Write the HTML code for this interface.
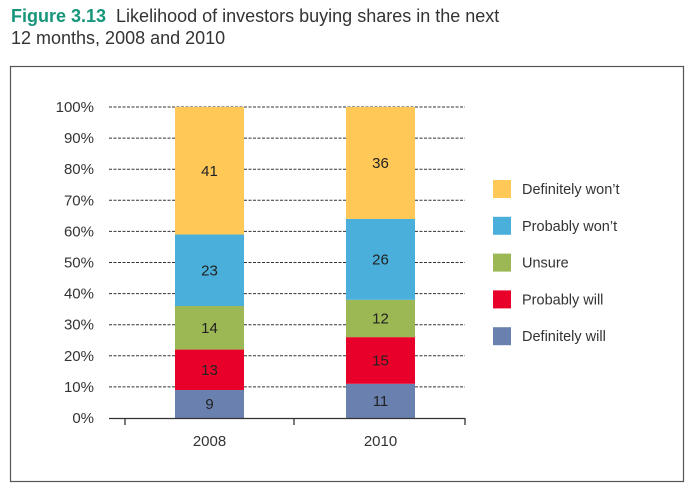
<!DOCTYPE html>
<html><head><meta charset="utf-8"><style>
body{margin:0;background:#fff;width:693px;height:493px;overflow:hidden;font-family:"Liberation Sans",sans-serif}
.t{position:absolute;left:11px;top:5px;font-size:18px;color:#333;line-height:22px}
.t b{color:#17957a;font-weight:bold;margin-right:10px}
</style></head><body>
<div class="t"><b>Figure 3.13</b>Likelihood of investors buying shares in the next<br>12 months, 2008 and 2010</div>
<svg id="c" width="693" height="493" style="position:absolute;left:0;top:0">
<rect x="10.5" y="66.5" width="673" height="415" fill="none" stroke="#555" stroke-width="1.2"/>
</svg>
<script>
const categories=["2008","2010"];
const seriesNames=["Definitely will","Probably will","Unsure","Probably won't","Definitely won't"];
const legendLabels=["Definitely won’t","Probably won’t","Unsure","Probably will","Definitely will"];
const definitelyWill=[9,11];
const probablyWill=[13,15];
const unsure=[14,12];
const probablyWont=[23,26];
const definitelyWont=[41,36];
const yTicks=[0,10,20,30,40,50,60,70,80,90,100];
const colors=["#6a80ae","#e8002a","#9bb854","#4bafdb","#ffc857"];
const series=[definitelyWill,probablyWill,unsure,probablyWont,definitelyWont];
const svg=document.getElementById('c');const NS="http://www.w3.org/2000/svg";
function el(t,a){const e=document.createElementNS(NS,t);for(const k in a)e.setAttribute(k,a[k]);svg.appendChild(e);return e;}
const y=v=>418-v*3.11;
const xc=i=>209.5+i*171;
yTicks.forEach(v=>{
 if(v>0){const g=el('line',{x1:109,x2:465,y1:y(v),y2:y(v),stroke:'#333','stroke-width':1,'stroke-dasharray':'3,1.5'});
 
 }
 const t=el('text',{x:94,y:y(v)+5,'text-anchor':'end','font-size':15,fill:'#333'});t.textContent=v+'%';
 
 
});
categories.forEach((c,i)=>{
 let base=0;
 series.forEach((s,j)=>{
  const r=el('rect',{x:xc(i)-34.5,y:y(base+s[i]),width:69,height:s[i]*3.11,fill:colors[j]});
  
  
  const t=el('text',{x:xc(i),y:y(base+s[i]/2)+5,'text-anchor':'middle','font-size':15,fill:'#222'});t.textContent=s[i];
  
  
  base+=s[i];
 });
 const t=el('text',{x:xc(i),y:446,'text-anchor':'middle','font-size':15,fill:'#333'});t.textContent=c;
 
 
});
const ax=el('path',{d:'M109 418.5H465M125 418V425M294 418V425M465 418V425',stroke:'#333','stroke-width':1.3,fill:'none'});


legendLabels.forEach((l,k)=>{
 const cy=189+k*36.8;
 const r=el('rect',{x:493,y:cy-9,width:18,height:18,fill:colors[4-k]});
 
 
 const t=el('text',{x:522,y:cy+5,'font-size':14.5,fill:'#333'});t.textContent=l;
 
 
});
</script>
</body></html>
